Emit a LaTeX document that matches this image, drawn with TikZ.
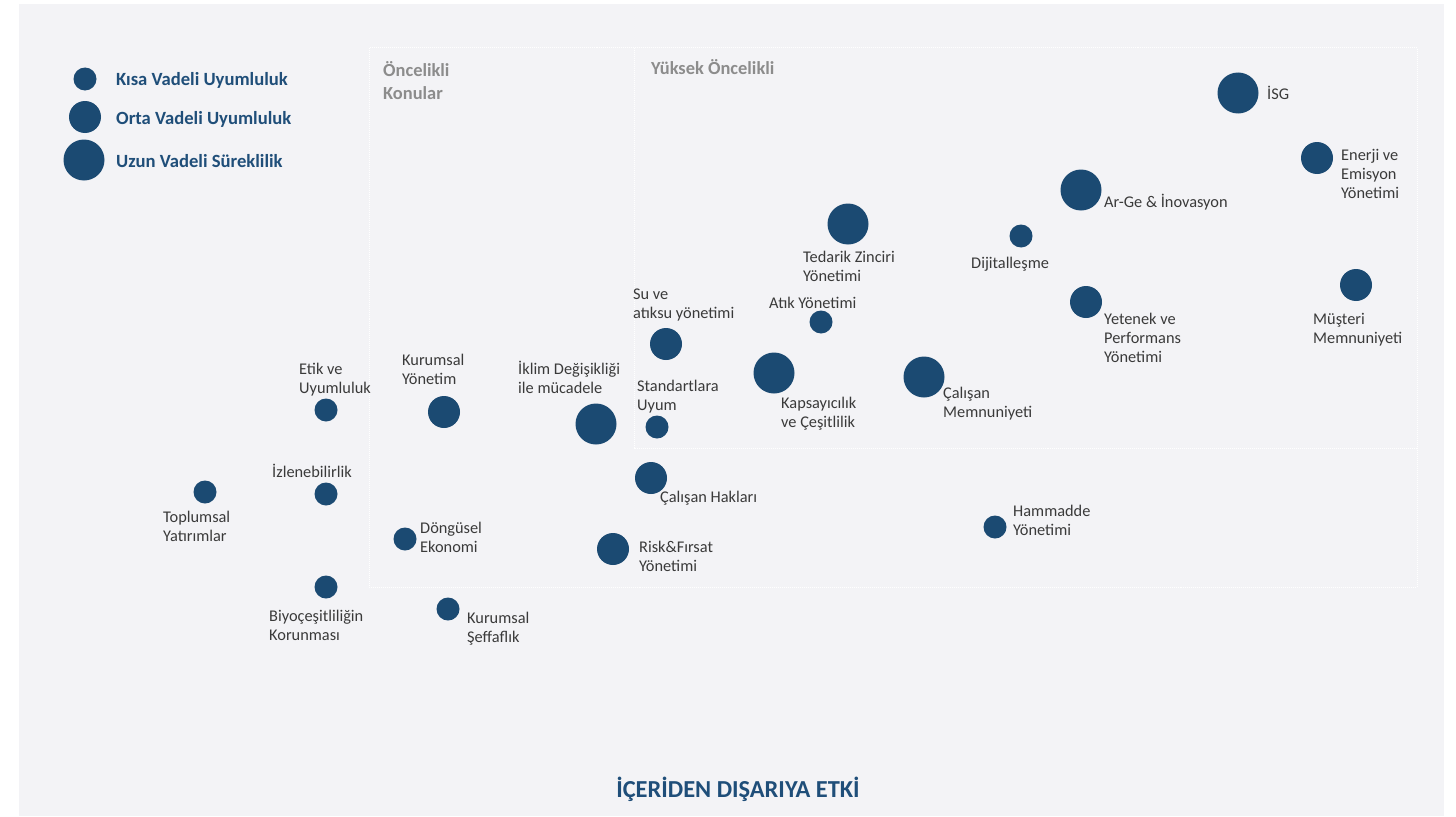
\documentclass[tikz,border=0pt]{standalone}
\usepackage{fontspec}
\setmainfont{Carlito}
\usepackage{tikz}

\definecolor{bubble}{HTML}{1B4A72}
\definecolor{titleblue}{HTML}{1F4E79}
\definecolor{labelgray}{HTML}{3A3A3A}
\definecolor{headgray}{HTML}{8C8C8C}
\definecolor{panel}{HTML}{F3F3F6}

% labels are placed at the baseline of their last line
\tikzset{
  kisa/.style={circle, fill=bubble, inner sep=0, minimum size=23bp},
  orta/.style={circle, fill=bubble, inner sep=0, minimum size=32bp},
  uzun/.style={circle, fill=bubble, inner sep=0, minimum size=41bp},
  lbl/.style={anchor=base west, inner sep=0, align=left, text=labelgray,
    font=\fontsize{16.4}{19}\selectfont},
  head/.style={anchor=base west, inner sep=0, align=left, text=headgray,
    font=\fontsize{18.5}{23}\selectfont\bfseries},
  legtext/.style={anchor=west, inner sep=0, text=titleblue,
    font=\fontsize{18.7}{22}\selectfont\bfseries}
}

\begin{document}
\begin{tikzpicture}[x=1bp,y=-1bp]

\useasboundingbox (0,0) rectangle (1456,816);
\fill [panel] (19,4) rectangle (1444,816);

%% Priority areas
\draw [white, densely dotted, line width=1bp] (369,48) rectangle (1417,587);
\draw [white, densely dotted, line width=1bp] (634,48) -- (634,448) -- (1417,448);
\node [head] (oncelikli) at (383,99) {Öncelikli\\Konular};
\node [head] (yuksek) at (651,74) {Yüksek Öncelikli};

%% Legend
\node [kisa] (legkisa) at (85,79) {};
\node [legtext] (legkisatxt) at (116,80) {Kısa Vadeli Uyumluluk};
\node [orta] (legorta) at (85,117) {};
\node [legtext] (legortatxt) at (116,119) {Orta Vadeli Uyumluluk};
\node [uzun] (leguzun) at (84,160) {};
\node [legtext] (leguzuntxt) at (116,161) {Uzun Vadeli Süreklilik};

%% High priority
\node [uzun] (isg) at (1238,93) {};
\node [lbl] (isgtxt) at (1267,99) {İSG};
\node [orta] (enerji) at (1317,158) {};
\node [lbl] (enerjitxt) at (1341,198) {Enerji ve\\Emisyon\\Yönetimi};
\node [uzun] (arge) at (1081,190) {};
\node [lbl] (argetxt) at (1104,207) {Ar-Ge \& İnovasyon};
\node [uzun] (tedarik) at (848,224) {};
\node [lbl] (tedariktxt) at (803,281) {Tedarik Zinciri\\Yönetimi};
\node [kisa] (dijital) at (1021,236) {};
\node [lbl] (dijitaltxt) at (971,268) {Dijitalleşme};
\node [orta] (musteri) at (1356,285) {};
\node [lbl] (musteritxt) at (1313,343) {Müşteri\\Memnuniyeti};
\node [orta] (yetenek) at (1086,302) {};
\node [lbl] (yetenektxt) at (1104,362) {Yetenek ve\\Performans\\Yönetimi};
\node [kisa] (atik) at (821,322) {};
\node [lbl] (atiktxt) at (769,308) {Atık Yönetimi};
\node [orta] (su) at (666,344) {};
\node [lbl] (sutxt) at (633,318) {Su ve\\atıksu yönetimi};
\node [uzun] (kapsay) at (774,373) {};
\node [lbl] (kapsaytxt) at (781,427) {Kapsayıcılık\\ve Çeşitlilik};
\node [uzun] (calisanm) at (924,377) {};
\node [lbl] (calisanmtxt) at (943,417) {Çalışan\\Memnuniyeti};
\node [kisa] (standart) at (657,427) {};
\node [lbl] (standarttxt) at (637,410) {Standartlara\\Uyum};

%% Priority topics
\node [uzun] (iklim) at (596,424) {};
\node [lbl] (iklimtxt) at (518,393) {İklim Değişikliği\\ile mücadele};
\node [orta] (kurumsal) at (444,412) {};
\node [lbl] (kurumsaltxt) at (402,384) {Kurumsal\\Yönetim};
\node [orta] (hak) at (651,478) {};
\node [lbl] (haktxt) at (660,502) {Çalışan Hakları};
\node [kisa] (hammadde) at (995,527) {};
\node [lbl] (hammaddetxt) at (1013,535) {Hammadde\\Yönetimi};
\node [kisa] (dongusel) at (405,539) {};
\node [lbl] (donguseltxt) at (420,552) {Döngüsel\\Ekonomi};
\node [orta] (risk) at (613,549) {};
\node [lbl] (risktxt) at (639,571) {Risk\&Fırsat\\Yönetimi};

%% Others
\node [kisa] (etik) at (326,410) {};
\node [lbl] (etiktxt) at (299,393) {Etik ve\\Uyumluluk};
\node [kisa] (izlen) at (326,494) {};
\node [lbl] (izlentxt) at (272,477) {İzlenebilirlik};
\node [kisa] (toplum) at (205,492) {};
\node [lbl] (toplumtxt) at (163,541) {Toplumsal\\Yatırımlar};
\node [kisa] (biyo) at (326,587) {};
\node [lbl] (biyotxt) at (269,640) {Biyoçeşitliliğin\\Korunması};
\node [kisa] (seffaf) at (448,609) {};
\node [lbl] (seffaftxt) at (467,642) {Kurumsal\\Şeffaflık};

%% Axis title
\node [text=titleblue, font=\fontsize{24.5}{28}\selectfont\bfseries] (etki) at (738,789) {İÇERİDEN DIŞARIYA ETKİ};

\end{tikzpicture}
\end{document}
